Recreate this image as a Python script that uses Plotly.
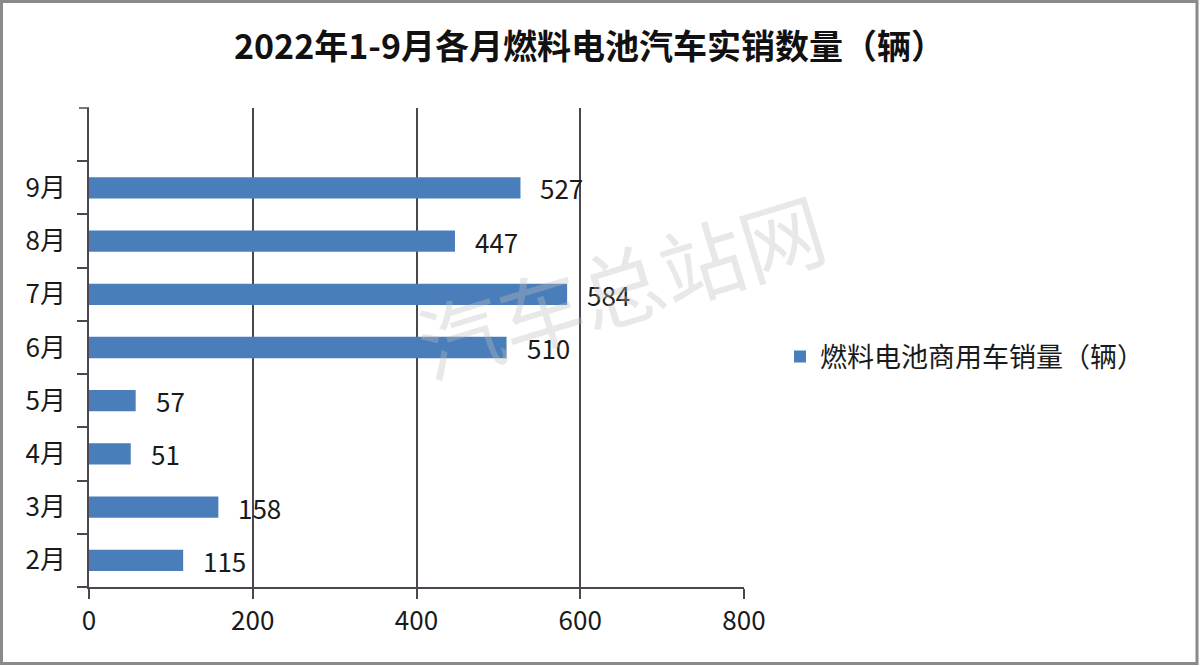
import plotly.graph_objects as go

months = ["2月", "3月", "4月", "5月", "6月", "7月", "8月", "9月"]
sales = [115, 158, 51, 57, 510, 584, 447, 527]
series_name = "燃料电池商用车销量（辆）"
title = "2022年1-9月各月燃料电池汽车实销数量（辆）"
x_ticks = [0, 200, 400, 600, 800]

FONT = "Noto Sans CJK SC, Noto Sans, sans-serif"
BAR = "#4a7ebb"
DARK = "#4d4650"

fig = go.Figure()
fig.add_trace(go.Bar(
    x=sales, y=months, orientation="h", name=series_name,
    marker=dict(color=BAR, line=dict(width=0)), width=0.4,
    showlegend=True,
))

for m, v in zip(months, sales):
    fig.add_annotation(x=v, y=m, text=str(v), showarrow=False,
                       xanchor="left", xshift=18,
                       font=dict(family=FONT, size=26, color="#1a1a1a"))

L, R, T, B = 89, 456, 108, 79
W = 1200 - L - R
H = 666 - T - B

fig.add_annotation(xref="paper", yref="paper",
                   x=(620 - L) / W, y=(587 - 283) / H,
                   xanchor="center", yanchor="middle",
                   text="汽车总站网", showarrow=False, textangle=-17,
                   font=dict(family=FONT, size=84, color="rgba(190,190,190,0.35)"))

fig.add_annotation(xref="paper", yref="paper",
                   x=(589 - L) / W, y=(587 - 45) / H,
                   text="<b>" + title + "</b>", showarrow=False,
                   xanchor="center", yanchor="middle",
                   font=dict(family=FONT, size=34, color="#111111"))

# top boundary tick of the category axis
fig.add_shape(type="line", xref="paper", yref="paper",
              x0=-10 / W, x1=0, y0=1, y1=1,
              line=dict(color=DARK, width=1.5))

# outer frame
fig.add_shape(type="rect", xref="paper", yref="paper",
              x0=(1.5 - L) / W, x1=(1197 - L) / W,
              y0=(587 - 663.5) / H, y1=(587 - 1.5) / H,
              line=dict(color="#8a8a8a", width=3))

fig.update_layout(
    width=1200, height=666,
    margin=dict(l=L, r=R, t=T, b=B),
    paper_bgcolor="white", plot_bgcolor="white",
    font=dict(family=FONT, color="#1a1a1a"),
    legend=dict(x=(780 - L) / W, y=(587 - 357) / H, xanchor="left", yanchor="middle",
                font=dict(family=FONT, size=27, color="#1a1a1a"),
                bgcolor="rgba(0,0,0,0)"),
    bargap=0.6,
)

fig.update_xaxes(range=[0, 800], tickvals=x_ticks, showgrid=True, gridcolor=DARK, gridwidth=1.5,
                 showline=True, linecolor=DARK, linewidth=1.5,
                 ticks="outside", ticklen=10, tickcolor=DARK, tickwidth=1.5,
                 tickfont=dict(family=FONT, size=26, color="#1a1a1a"),
                 zeroline=False, fixedrange=True)
fig.update_yaxes(type="category", categoryorder="array", categoryarray=months,
                 range=[-0.5, len(months) + 0.5], tickson="boundaries",
                 showgrid=False, showline=True, linecolor=DARK, linewidth=1.5,
                 ticks="outside", ticklen=10, tickcolor=DARK, tickwidth=1.5,
                 tickfont=dict(family=FONT, size=26, color="#1a1a1a"),
                 ticklabelstandoff=16, fixedrange=True)

fig.write_html("out.html")
